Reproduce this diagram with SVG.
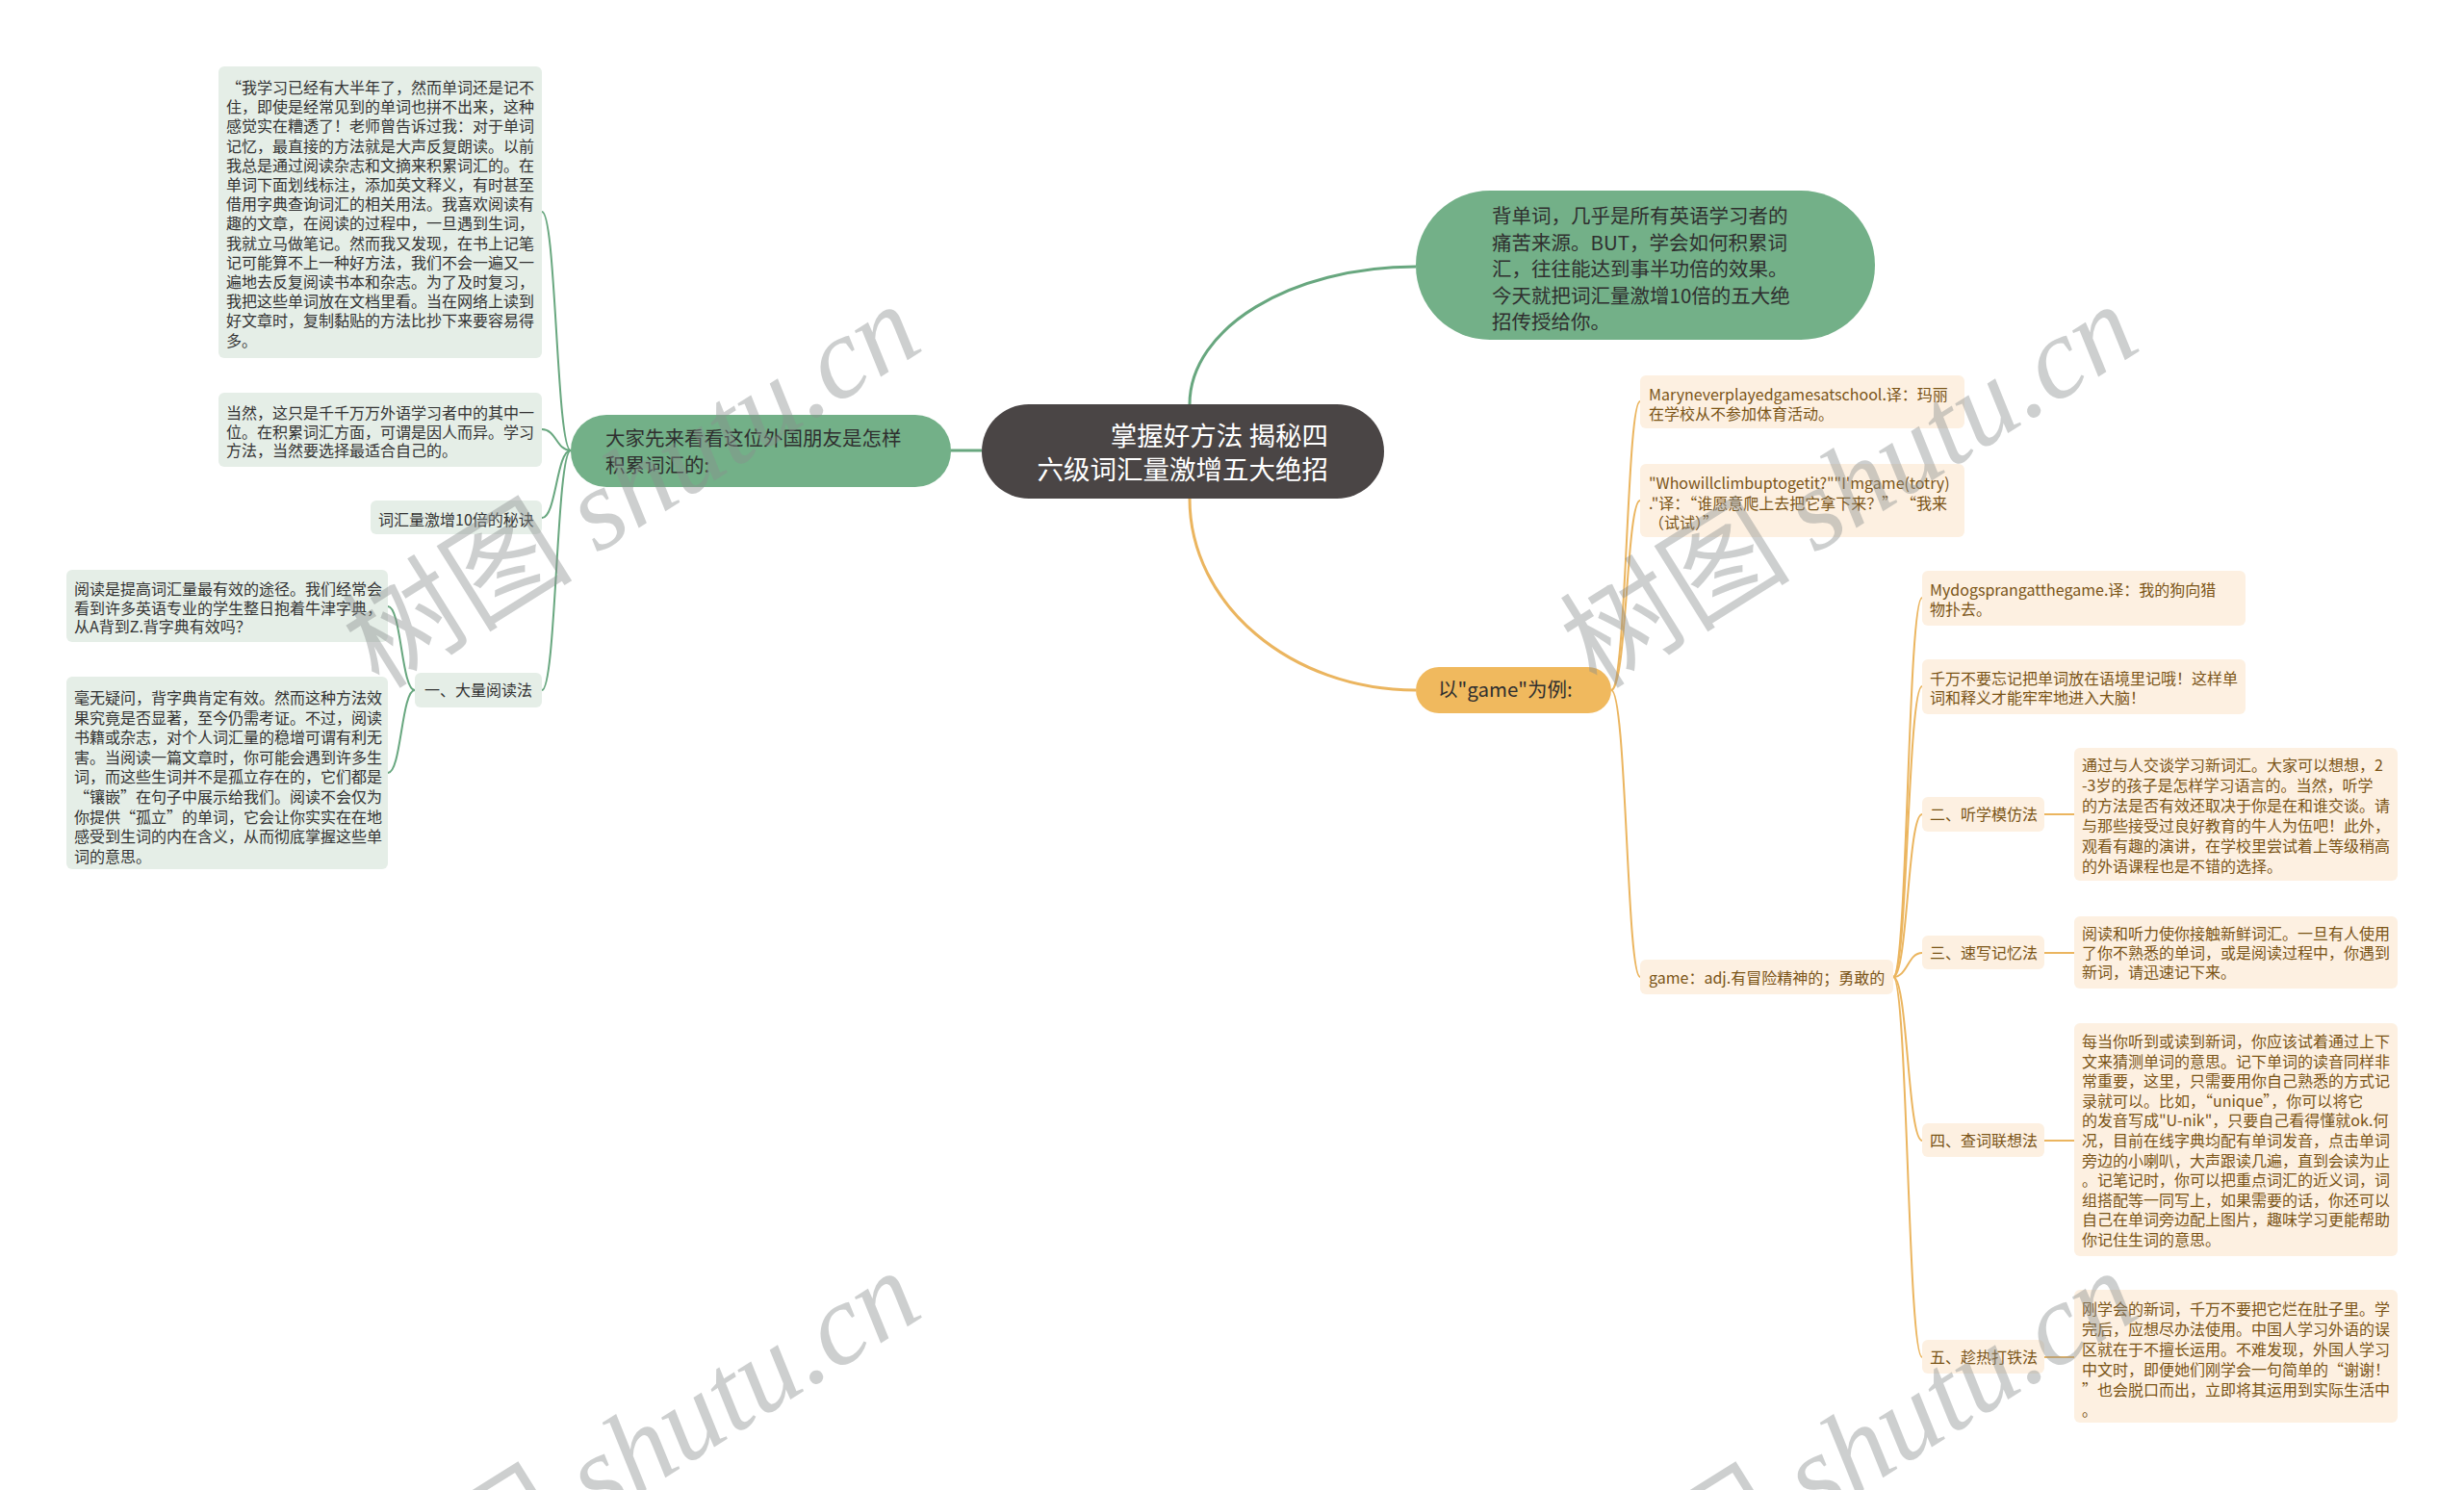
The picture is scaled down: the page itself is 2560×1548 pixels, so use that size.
<svg xmlns="http://www.w3.org/2000/svg" width="2560" height="1548" viewBox="0 0 2560 1548">
<style>
text{font-family:"Noto Sans CJK SC","Noto Sans",sans-serif;}
.gl{fill:#e5eee7;}
.ol{fill:#fdf0e1;}
.gt{font-size:16px;fill:#333333;}
.ot{font-size:16px;fill:#7a5416;}
.big{font-size:20.5px;fill:#2f2f2f;}
.cg{fill:none;stroke:#68a77f;stroke-width:2;}
.co{fill:none;stroke:#ebb55f;stroke-width:2;}
.wm{font-size:120px;fill:#8a8f8f;opacity:0.42;}
.wm tspan.en{font-family:"Liberation Serif",serif;font-style:italic;}
</style>
<rect width="2560" height="1548" fill="#ffffff"/>
<g id="connectors">
<path class="cg" style="stroke-width:3" d="M1236,420 C1236,341 1341,277 1471,277"/>
<path class="cg" style="stroke-width:3" d="M1020,468 L988,468"/>
<path class="cg" d="M593,468 C578,468 578,220 563,220"/>
<path class="cg" d="M593,468 C578,468 578,446 563,446"/>
<path class="cg" d="M593,468 C578,468 578,538 563,538"/>
<path class="cg" d="M593,468 C578,468 578,717 563,717"/>
<path class="cg" d="M431,717 C417,717 417,630 403,630"/>
<path class="cg" d="M431,717 C417,717 417,803 403,803"/>
<path class="co" style="stroke-width:3" d="M1236,518 C1236,628 1341,717 1471,717"/>
<path class="co" d="M1674,717 C1690,717 1690,417 1704,417"/>
<path class="co" d="M1674,717 C1690,717 1690,520 1704,520"/>
<path class="co" d="M1674,717 C1690,717 1690,1015 1704,1015"/>
<path class="co" d="M1967,1015 C1982,1015 1982,621 1997,621"/>
<path class="co" d="M1967,1015 C1982,1015 1982,713 1997,713"/>
<path class="co" d="M1967,1015 C1982,1015 1982,846 1997,846"/>
<path class="co" d="M1967,1015 C1982,1015 1982,990 1997,990"/>
<path class="co" d="M1967,1015 C1982,1015 1982,1185 1997,1185"/>
<path class="co" d="M1967,1015 C1982,1015 1982,1410 1997,1410"/>
<path class="co" d="M2124,846 L2155,846"/>
<path class="co" d="M2124,990 L2155,990"/>
<path class="co" d="M2124,1185 L2155,1185"/>
<path class="co" d="M2124,1410 L2155,1410"/>
</g>
<g id="root">
<rect x="1020" y="420" width="418" height="98" rx="49" fill="#4a4545"/>
<text font-size="27.5" fill="#ffffff" text-anchor="end"><tspan x="1380" y="463">掌握好方法 揭秘四</tspan><tspan x="1380" y="498">六级词汇量激增五大绝招</tspan></text>
</g>
<g id="intro">
<rect x="1471" y="198" width="477" height="155" rx="77" fill="#73b088"/>
<text class="big"><tspan x="1550" y="232">背单词，几乎是所有英语学习者的</tspan><tspan x="1550" dy="27.5">痛苦来源。BUT，学会如何积累词</tspan><tspan x="1550" dy="27.5">汇，往往能达到事半功倍的效果。</tspan><tspan x="1550" dy="27.5">今天就把词汇量激增10倍的五大绝</tspan><tspan x="1550" dy="27.5">招传授给你。</tspan></text>
</g>
<g id="friend">
<rect x="593" y="431" width="395" height="75" rx="37" fill="#73b088"/>
<text class="big"><tspan x="629" y="463">大家先来看看这位外国朋友是怎样</tspan><tspan x="629" dy="27.5">积累词汇的:</tspan></text>
</g>
<g id="b1">
<rect class="gl" x="227" y="69" width="336" height="303" rx="6"/>
<text class="gt"><tspan x="235" y="97">“我学习已经有大半年了，然而单词还是记不</tspan><tspan x="235" dy="20.2">住，即使是经常见到的单词也拼不出来，这种</tspan><tspan x="235" dy="20.2">感觉实在糟透了！老师曾告诉过我：对于单词</tspan><tspan x="235" dy="20.2">记忆，最直接的方法就是大声反复朗读。以前</tspan><tspan x="235" dy="20.2">我总是通过阅读杂志和文摘来积累词汇的。在</tspan><tspan x="235" dy="20.2">单词下面划线标注，添加英文释义，有时甚至</tspan><tspan x="235" dy="20.2">借用字典查询词汇的相关用法。我喜欢阅读有</tspan><tspan x="235" dy="20.2">趣的文章，在阅读的过程中，一旦遇到生词，</tspan><tspan x="235" dy="20.2">我就立马做笔记。然而我又发现，在书上记笔</tspan><tspan x="235" dy="20.2">记可能算不上一种好方法，我们不会一遍又一</tspan><tspan x="235" dy="20.2">遍地去反复阅读书本和杂志。为了及时复习，</tspan><tspan x="235" dy="20.2">我把这些单词放在文档里看。当在网络上读到</tspan><tspan x="235" dy="20.2">好文章时，复制黏贴的方法比抄下来要容易得</tspan><tspan x="235" dy="20.2">多。</tspan></text>
</g>
<g id="b2">
<rect class="gl" x="227" y="408" width="336" height="77" rx="6"/>
<text class="gt"><tspan x="235" y="435">当然，这只是千千万万外语学习者中的其中一</tspan><tspan x="235" dy="19.6">位。在积累词汇方面，可谓是因人而异。学习</tspan><tspan x="235" dy="19.6">方法，当然要选择最适合自己的。</tspan></text>
</g>
<g id="b3">
<rect class="gl" x="385" y="520" width="178" height="35" rx="6"/>
<text class="gt" x="393" y="546">词汇量激增10倍的秘诀</text>
</g>
<g id="b4">
<rect class="gl" x="431" y="699" width="132" height="36" rx="6"/>
<text class="gt" x="441" y="723">一、大量阅读法</text>
</g>
<g id="b5">
<rect class="gl" x="69" y="592" width="334" height="75" rx="6"/>
<text class="gt"><tspan x="77" y="618">阅读是提高词汇量最有效的途径。我们经常会</tspan><tspan x="77" dy="19.7">看到许多英语专业的学生整日抱着牛津字典，</tspan><tspan x="77" dy="19.7">从A背到Z.背字典有效吗？</tspan></text>
</g>
<g id="b6">
<rect class="gl" x="69" y="703" width="334" height="200" rx="6"/>
<text class="gt"><tspan x="77" y="731">毫无疑问，背字典肯定有效。然而这种方法效</tspan><tspan x="77" dy="20.6">果究竟是否显著，至今仍需考证。不过，阅读</tspan><tspan x="77" dy="20.6">书籍或杂志，对个人词汇量的稳增可谓有利无</tspan><tspan x="77" dy="20.6">害。当阅读一篇文章时，你可能会遇到许多生</tspan><tspan x="77" dy="20.6">词，而这些生词并不是孤立存在的，它们都是</tspan><tspan x="77" dy="20.6">“镶嵌”在句子中展示给我们。阅读不会仅为</tspan><tspan x="77" dy="20.6">你提供“孤立”的单词，它会让你实实在在地</tspan><tspan x="77" dy="20.6">感受到生词的内在含义，从而彻底掌握这些单</tspan><tspan x="77" dy="20.6">词的意思。</tspan></text>
</g>
<g id="game-example">
<rect x="1471" y="693" width="203" height="48" rx="24" fill="#f0b95e"/>
<text class="big" x="1494" y="724">以"game"为例:</text>
</g>
<g id="ba">
<rect class="ol" x="1704" y="390" width="337" height="55" rx="6"/>
<text class="ot"><tspan x="1713" y="416">Maryneverplayedgamesatschool.译：玛丽</tspan><tspan x="1713" dy="20.2">在学校从不参加体育活动。</tspan></text>
</g>
<g id="bb">
<rect class="ol" x="1704" y="482" width="337" height="76" rx="6"/>
<text class="ot"><tspan x="1713" y="508">"Whowillclimbuptogetit?""I'mgame(totry)</tspan><tspan x="1713" dy="20.5">."译：“谁愿意爬上去把它拿下来？” “我来</tspan><tspan x="1713" dy="20.5">（试试）”</tspan></text>
</g>
<g id="bc">
<rect class="ol" x="1704" y="997" width="263" height="36" rx="6"/>
<text class="ot" x="1713" y="1022">game：adj.有冒险精神的；勇敢的</text>
</g>
<g id="bd">
<rect class="ol" x="1997" y="593" width="336" height="57" rx="6"/>
<text class="ot"><tspan x="2005" y="619">Mydogsprangatthegame.译：我的狗向猎</tspan><tspan x="2005" dy="20">物扑去。</tspan></text>
</g>
<g id="be">
<rect class="ol" x="1997" y="685" width="336" height="57" rx="6"/>
<text class="ot"><tspan x="2005" y="711">千万不要忘记把单词放在语境里记哦！这样单</tspan><tspan x="2005" dy="20">词和释义才能牢牢地进入大脑！</tspan></text>
</g>
<g id="bf">
<rect class="ol" x="1997" y="828" width="127" height="36" rx="6"/>
<text class="ot" x="2005" y="852">二、听学模仿法</text>
</g>
<g id="bf1">
<rect class="ol" x="2155" y="777" width="336" height="138" rx="6"/>
<text class="ot"><tspan x="2163" y="801">通过与人交谈学习新词汇。大家可以想想，2</tspan><tspan x="2163" dy="21">-3岁的孩子是怎样学习语言的。当然，听学</tspan><tspan x="2163" dy="21">的方法是否有效还取决于你是在和谁交谈。请</tspan><tspan x="2163" dy="21">与那些接受过良好教育的牛人为伍吧！此外，</tspan><tspan x="2163" dy="21">观看有趣的演讲，在学校里尝试着上等级稍高</tspan><tspan x="2163" dy="21">的外语课程也是不错的选择。</tspan></text>
</g>
<g id="bg">
<rect class="ol" x="1997" y="972" width="127" height="35" rx="6"/>
<text class="ot" x="2005" y="996">三、速写记忆法</text>
</g>
<g id="bg1">
<rect class="ol" x="2155" y="952" width="336" height="75" rx="6"/>
<text class="ot"><tspan x="2163" y="976">阅读和听力使你接触新鲜词汇。一旦有人使用</tspan><tspan x="2163" dy="20">了你不熟悉的单词，或是阅读过程中，你遇到</tspan><tspan x="2163" dy="20">新词，请迅速记下来。</tspan></text>
</g>
<g id="bh">
<rect class="ol" x="1997" y="1167" width="127" height="35" rx="6"/>
<text class="ot" x="2005" y="1191">四、查词联想法</text>
</g>
<g id="bh1">
<rect class="ol" x="2155" y="1063" width="336" height="242" rx="6"/>
<text class="ot"><tspan x="2163" y="1088">每当你听到或读到新词，你应该试着通过上下</tspan><tspan x="2163" dy="20.6">文来猜测单词的意思。记下单词的读音同样非</tspan><tspan x="2163" dy="20.6">常重要，这里，只需要用你自己熟悉的方式记</tspan><tspan x="2163" dy="20.6">录就可以。比如，“unique”，你可以将它</tspan><tspan x="2163" dy="20.6">的发音写成"U-nik"，只要自己看得懂就ok.何</tspan><tspan x="2163" dy="20.6">况，目前在线字典均配有单词发音，点击单词</tspan><tspan x="2163" dy="20.6">旁边的小喇叭，大声跟读几遍，直到会读为止</tspan><tspan x="2163" dy="20.6">。记笔记时，你可以把重点词汇的近义词，词</tspan><tspan x="2163" dy="20.6">组搭配等一同写上，如果需要的话，你还可以</tspan><tspan x="2163" dy="20.6">自己在单词旁边配上图片，趣味学习更能帮助</tspan><tspan x="2163" dy="20.6">你记住生词的意思。</tspan></text>
</g>
<g id="bi">
<rect class="ol" x="1997" y="1392" width="127" height="35" rx="6"/>
<text class="ot" x="2005" y="1416">五、趁热打铁法</text>
</g>
<g id="bi1">
<rect class="ol" x="2155" y="1340" width="336" height="138" rx="6"/>
<text class="ot"><tspan x="2163" y="1366">刚学会的新词，千万不要把它烂在肚子里。学</tspan><tspan x="2163" dy="21">完后，应想尽办法使用。中国人学习外语的误</tspan><tspan x="2163" dy="21">区就在于不擅长运用。不难发现，外国人学习</tspan><tspan x="2163" dy="21">中文时，即便她们刚学会一句简单的“谢谢！</tspan><tspan x="2163" dy="21">”也会脱口而出，立即将其运用到实际生活中</tspan><tspan x="2163" dy="21">。</tspan></text>
</g>
<g id="watermarks">
<text class="wm" transform="rotate(-32 394 717)" x="394" y="717">树图 <tspan class="en">shutu.cn</tspan></text>
<text class="wm" transform="rotate(-32 1659 717)" x="1659" y="717">树图 <tspan class="en">shutu.cn</tspan></text>
<text class="wm" transform="rotate(-32 394 1721)" x="394" y="1721">树图 <tspan class="en">shutu.cn</tspan></text>
<text class="wm" transform="rotate(-32 1659 1721)" x="1659" y="1721">树图 <tspan class="en">shutu.cn</tspan></text>
</g>
</svg>
